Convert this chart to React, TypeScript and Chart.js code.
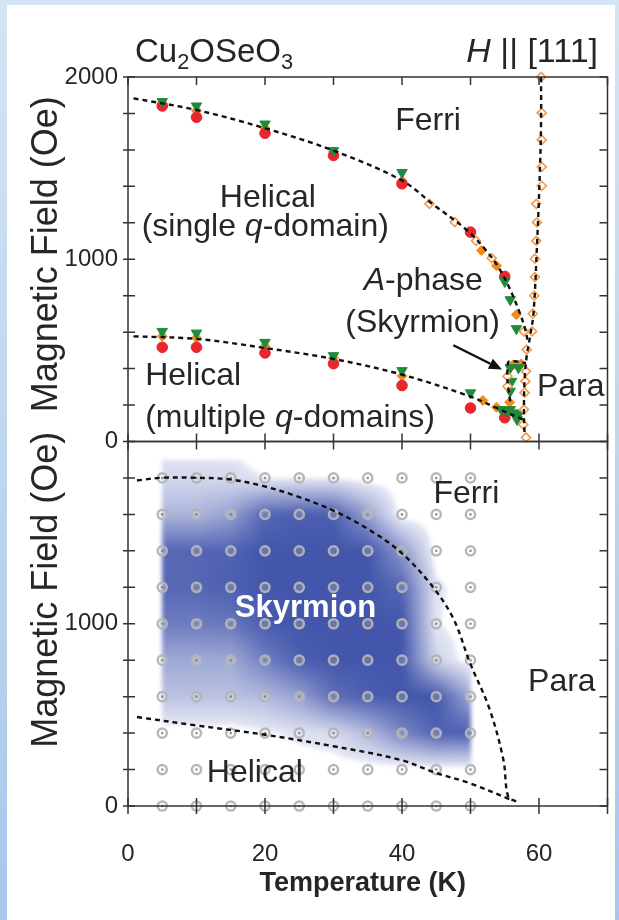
import React, { useEffect, useRef } from 'react';
import { Chart, registerables } from 'chart.js';

Chart.register(...registerables);

const FONT = '"Liberation Sans", Arial, Helvetica, sans-serif';

// ---- axes ----
const tempTickLabels = [0, 20, 40, 60];
const fieldTickLabels = [0, 1000, 2000];
const tempRange = [0, 70];
const fieldRange = [0, 2000];
const minorTempStep = 10;
const minorFieldStep = 200;

// ---- top panel: measured transition points ----
const redT = [5, 10, 20, 30, 40, 50, 55, 5, 10, 20, 30, 40, 50, 55];
const redH = [1841, 1779, 1691, 1569, 1414, 1149, 906, 517, 517, 486, 427, 307, 184, 130];

const greenT = [5, 10, 20, 30, 40, 55, 55.8, 56.7, 5, 10, 20, 30, 40, 50, 55.8, 57, 56, 55.8, 55.8, 54.5, 55.3, 56.3, 57, 56.8];
const greenH = [1865, 1841, 1742, 1596, 1476, 878, 778, 619, 604, 595, 544, 471, 389, 267, 405, 405, 330, 276, 175, 175, 166, 157, 148, 121];

const orangeT = [5, 10, 20, 30, 40, 51.6, 53.8, 56.7, 5, 10, 20, 30, 40, 51.8, 53.8, 55.7, 56.2, 57.4];
const orangeH = [1855, 1815, 1720, 1590, 1430, 1048, 964, 696, 577, 568, 522, 458, 360, 225, 188, 215, 420, 425];

const openT = [44, 47.7, 50.8, 53.1, 60.3, 60.4, 60.4, 60.4, 60.4, 59.6, 59.7, 59.6, 59.4, 59.4, 59.3, 59.1, 59.0, 57.8, 58.2, 55.4, 55.4, 58.1, 58.0, 57.9, 57.8, 57.7, 58.1];
const openH = [1304, 1204, 1101, 1006, 2000, 1803, 1655, 1507, 1403, 1304, 1202, 1101, 1003, 902, 800, 701, 604, 604, 504, 358, 303, 385, 330, 268, 175, 93, 22];

// ---- top panel: phase boundaries ----
const hc2TopT = [0.8, 10, 20, 30, 40, 44.6, 49.4, 52.4, 54.3, 55.8, 57.2, 58, 58.4];
const hc2TopH = [1883, 1819, 1719, 1596, 1432, 1299, 1162, 1043, 942, 833, 705, 614, 541];
const tcTopT = [60.3, 60.3, 60.1, 59.7, 59.2, 58.7, 58.2, 57.9, 57.8, 57.9];
const tcTopH = [2000, 1750, 1450, 1070, 705, 577, 467, 340, 157, 29];
const hc1TopT = [0.8, 10, 20, 30, 40, 49.9, 54.3, 57.7];
const hc1TopH = [577, 563, 513, 453, 367, 248, 175, 120];
const aPhaseT = [55.8, 55.4, 55.5, 56.5, 58.1];
const aPhaseH = [220, 330, 435, 440, 430];
const arrowFrom = { t: 47.5, h: 528 };
const arrowTo = { t: 54.6, h: 395 };

// ---- bottom panel: SANS measurement grid and skyrmion intensity ----
const gridT = [5, 10, 15, 20, 25, 30, 35, 40, 45, 50];
const gridH = [0, 200, 400, 600, 800, 1000, 1200, 1400, 1600, 1800];
const mapT = [5, 10, 15, 20, 25, 30, 35, 40, 45, 50];
const mapH = [200, 400, 600, 800, 1000, 1200, 1400, 1600, 1800, 1900];
const skyrmionIntensity = [
  [0, 0, 0, 0, 0, 0, 0, 0, 0, 0],
  [0, 0, 0, 0.05, 0.1, 0.15, 0.35, 0.65, 0.88, 0.9],
  [0.3, 0.3, 0.3, 0.35, 0.5, 0.8, 0.9, 0.95, 0.95, 0.45],
  [0.45, 0.45, 0.45, 0.7, 0.9, 0.95, 0.95, 0.95, 0.2, 0],
  [0.72, 0.72, 0.75, 0.92, 0.95, 0.95, 0.95, 0.95, 0.08, 0],
  [0.85, 0.85, 0.9, 0.95, 0.95, 0.95, 0.95, 0.85, 0.1, 0],
  [0.85, 0.85, 0.88, 0.95, 0.95, 0.95, 0.95, 0.55, 0, 0],
  [0.38, 0.38, 0.5, 0.85, 0.9, 0.9, 0.5, 0, 0, 0],
  [0.16, 0.16, 0.16, 0.07, 0.07, 0.07, 0, 0, 0, 0],
  [0.12, 0.12, 0.1, 0, 0, 0, 0, 0, 0, 0],
];
const hc2BotT = [1.3, 4.9, 10, 14.9, 19.8, 24.6, 30, 34.8, 39.7, 44.3, 47.5, 49.9, 52.8, 54.8, 55.5, 56.7];
const hc2BotH = [1786, 1801, 1801, 1792, 1755, 1700, 1621, 1525, 1396, 1212, 1028, 788, 530, 254, 51, 24];
const hc1BotT = [1.3, 10, 19.8, 30, 39.7, 45, 49.9, 56];
const hc1BotH = [488, 442, 392, 328, 254, 181, 125, 33];

// ---- region labels (anchored in data coordinates) ----
type Seg = { t: string; italic?: boolean; bold?: boolean; sub?: boolean };
type Label = { panel: 'top' | 'bot'; t: number; h: number; align: CanvasTextAlign; segs: Seg[]; color?: string };
const regionLabels: Label[] = [
  { panel: 'top', t: 39, h: 1710, align: 'left', segs: [{ t: 'Ferri' }] },
  { panel: 'top', t: 13.4, h: 1288, align: 'left', segs: [{ t: 'Helical' }] },
  { panel: 'top', t: 2.0, h: 1125, align: 'left', segs: [{ t: '(single ' }, { t: 'q', italic: true }, { t: '-domain)' }] },
  { panel: 'top', t: 51.8, h: 833, align: 'right', segs: [{ t: 'A', italic: true }, { t: '-phase' }] },
  { panel: 'top', t: 54.3, h: 603, align: 'right', segs: [{ t: '(Skyrmion)' }] },
  { panel: 'top', t: 59.7, h: 247, align: 'left', segs: [{ t: 'Para' }] },
  { panel: 'top', t: 2.5, h: 312, align: 'left', segs: [{ t: 'Helical' }] },
  { panel: 'top', t: 2.5, h: 82, align: 'left', segs: [{ t: '(multiple ' }, { t: 'q', italic: true }, { t: '-domains)' }] },
  { panel: 'bot', t: 44.6, h: 1663, align: 'left', segs: [{ t: 'Ferri' }] },
  { panel: 'bot', t: 15.6, h: 1039, align: 'left', segs: [{ t: 'Skyrmion', bold: true }], color: '#ffffff' },
  { panel: 'bot', t: 58.4, h: 630, align: 'left', segs: [{ t: 'Para' }] },
  { panel: 'bot', t: 11.5, h: 133, align: 'left', segs: [{ t: 'Helical' }] },
];

const pts = (xs: number[], ys: number[]) => xs.map((x, i) => ({ x, y: ys[i] }));

function segFont(s: Seg, size: number) {
  const sz = s.sub ? size * 0.66 : size;
  return `${s.italic ? 'italic ' : ''}${s.bold ? 'bold ' : ''}${sz}px ${FONT}`;
}

function drawRich(ctx: CanvasRenderingContext2D, segs: Seg[], x: number, y: number, size: number, align: CanvasTextAlign, color: string) {
  ctx.save();
  ctx.fillStyle = color;
  ctx.textBaseline = 'alphabetic';
  ctx.textAlign = 'left';
  let total = 0;
  const widths = segs.map((s) => {
    ctx.font = segFont(s, size);
    const w = ctx.measureText(s.t).width;
    total += w;
    return w;
  });
  let cx = align === 'center' ? x - total / 2 : align === 'right' ? x - total : x;
  segs.forEach((s, i) => {
    ctx.font = segFont(s, size);
    ctx.fillText(s.t, cx, s.sub ? y + size * 0.22 : y);
    cx += widths[i];
  });
  ctx.restore();
}

function sampleIntensity(t: number, h: number) {
  const nT = mapT.length, nH = mapH.length;
  if (t < mapT[0] || t > mapT[nT - 1] || h < mapH[0] || h > mapH[nH - 1]) return 0;
  let i = 0;
  while (i < nT - 2 && t > mapT[i + 1]) i++;
  let j = 0;
  while (j < nH - 2 && h > mapH[j + 1]) j++;
  const fx = (t - mapT[i]) / (mapT[i + 1] - mapT[i]);
  const fy = (h - mapH[j]) / (mapH[j + 1] - mapH[j]);
  const v00 = skyrmionIntensity[j][i];
  const v10 = skyrmionIntensity[j][i + 1];
  const v01 = skyrmionIntensity[j + 1][i];
  const v11 = skyrmionIntensity[j + 1][i + 1];
  return v00 * (1 - fx) * (1 - fy) + v10 * fx * (1 - fy) + v01 * (1 - fx) * fy + v11 * fx * fy;
}

const backgroundPlugin = {
  id: 'pageBackground',
  beforeDraw(chart: any) {
    const { ctx, width, height } = chart;
    ctx.save();
    const g = ctx.createLinearGradient(0, 0, 0, height);
    g.addColorStop(0, '#d4e4f4');
    g.addColorStop(1, '#a8c8ea');
    ctx.fillStyle = g;
    ctx.fillRect(0, 0, width, height);
    ctx.fillStyle = '#ffffff';
    ctx.fillRect(7, 5, width - 7 - 4, height - 5);
    ctx.restore();
  },
};

const heatmapPlugin = {
  id: 'skyrmionMap',
  beforeDatasetsDraw(chart: any) {
    const { ctx } = chart;
    const xs = chart.scales.x;
    const ys = chart.scales.yBot;
    const x0 = Math.floor(xs.getPixelForValue(mapT[0]));
    const x1 = Math.ceil(xs.getPixelForValue(mapT[mapT.length - 1]));
    const y0 = Math.floor(ys.getPixelForValue(mapH[mapH.length - 1]));
    const y1 = Math.ceil(ys.getPixelForValue(mapH[0]));
    const w = x1 - x0, h = y1 - y0;
    const off = document.createElement('canvas');
    off.width = w;
    off.height = h;
    const octx = off.getContext('2d')!;
    const img = octx.createImageData(w, h);
    const lo = [242, 243, 250];
    const hi = [58, 78, 168];
    for (let py = 0; py < h; py++) {
      const H = ys.getValueForPixel(y0 + py + 0.5);
      for (let px = 0; px < w; px++) {
        const T = xs.getValueForPixel(x0 + px + 0.5);
        let v = sampleIntensity(T, H);
        if (v < 0.07) continue;
        v = Math.min(1, v);
        const k = (py * w + px) * 4;
        img.data[k] = lo[0] + (hi[0] - lo[0]) * v;
        img.data[k + 1] = lo[1] + (hi[1] - lo[1]) * v;
        img.data[k + 2] = lo[2] + (hi[2] - lo[2]) * v;
        img.data[k + 3] = 255;
      }
    }
    octx.putImageData(img, 0, 0);
    ctx.save();
    ctx.filter = 'blur(2px)';
    ctx.drawImage(off, x0, y0);
    ctx.restore();
  },
};

const annotationPlugin = {
  id: 'frameAndText',
  afterDatasetsDraw(chart: any) {
    const { ctx } = chart;
    const xs = chart.scales.x;
    const yt = chart.scales.yTop;
    const yb = chart.scales.yBot;
    const L = chart.chartArea.left;
    const R = chart.chartArea.right;
    const ink = '#262626';

    // frames and inward ticks
    ctx.save();
    ctx.strokeStyle = '#333333';
    ctx.lineWidth = 1.5;
    ctx.strokeRect(L, yt.top, R - L, yt.bottom - yt.top);
    ctx.strokeRect(L, yb.top, R - L, yb.bottom - yb.top);
    ctx.beginPath();
    for (let t = tempRange[0]; t <= tempRange[1]; t += minorTempStep) {
      const px = xs.getPixelForValue(t);
      ctx.moveTo(px, yt.top);
      ctx.lineTo(px, yt.top + 8);
      ctx.moveTo(px, yt.bottom - 8);
      ctx.lineTo(px, yt.bottom + 8);
      ctx.moveTo(px, yb.bottom - 8);
      ctx.lineTo(px, yb.bottom + 8);
    }
    [yt, yb].forEach((s) => {
      for (let h = fieldRange[0]; h <= fieldRange[1]; h += minorFieldStep) {
        const py = s.getPixelForValue(h);
        ctx.moveTo(L - 5, py);
        ctx.lineTo(L + 7, py);
        ctx.moveTo(R - 8, py);
        ctx.lineTo(R, py);
      }
    });
    ctx.stroke();
    ctx.restore();

    // arrow pointing to the A-phase pocket
    ctx.save();
    const ax0 = xs.getPixelForValue(arrowFrom.t), ay0 = yt.getPixelForValue(arrowFrom.h);
    const ax1 = xs.getPixelForValue(arrowTo.t), ay1 = yt.getPixelForValue(arrowTo.h);
    const ang = Math.atan2(ay1 - ay0, ax1 - ax0);
    const headL = 13, headW = 5.5;
    const bx = ax1 - Math.cos(ang) * headL, by = ay1 - Math.sin(ang) * headL;
    ctx.strokeStyle = '#111';
    ctx.fillStyle = '#111';
    ctx.lineWidth = 2.4;
    ctx.beginPath();
    ctx.moveTo(ax0, ay0);
    ctx.lineTo(bx, by);
    ctx.stroke();
    ctx.beginPath();
    ctx.moveTo(ax1, ay1);
    ctx.lineTo(bx + Math.sin(ang) * headW, by - Math.cos(ang) * headW);
    ctx.lineTo(bx - Math.sin(ang) * headW, by + Math.cos(ang) * headW);
    ctx.closePath();
    ctx.fill();
    ctx.restore();

    // region labels
    regionLabels.forEach((lb) => {
      const s = lb.panel === 'top' ? yt : yb;
      const px = xs.getPixelForValue(lb.t);
      const py = s.getPixelForValue(lb.h);
      drawRich(ctx, lb.segs, px, py, lb.segs[0].bold ? 31 : 32, lb.align, lb.color || ink);
    });

    // titles
    drawRich(ctx, [{ t: 'Cu' }, { t: '2', sub: true }, { t: 'OSeO' }, { t: '3', sub: true }], 135, 62, 33, 'left', ink);
    drawRich(ctx, [{ t: 'H', italic: true }, { t: ' || [111]' }], 598, 62, 34, 'right', ink);

    // axis titles
    ctx.save();
    ctx.fillStyle = ink;
    ctx.font = `36px ${FONT}`;
    ctx.textAlign = 'center';
    ctx.textBaseline = 'middle';
    [[yt, -5], [yb, -34]].forEach(([s, dy]: any) => {
      ctx.save();
      ctx.translate(47, (s.top + s.bottom) / 2 + dy);
      ctx.rotate(-Math.PI / 2);
      ctx.fillText('Magnetic Field (Oe)', 0, 0);
      ctx.restore();
    });
    ctx.font = `bold 27px ${FONT}`;
    ctx.textBaseline = 'alphabetic';
    ctx.fillText('Temperature (K)', (L + R) / 2 - 5, 891);
    ctx.restore();
  },
};

export default function App() {
  const ref = useRef<HTMLCanvasElement | null>(null);

  useEffect(() => {
    const canvas = ref.current;
    if (!canvas) return;
    const dashed = {
      showLine: true,
      borderColor: '#111111',
      borderWidth: 2.4,
      borderDash: [5, 4],
      pointRadius: 0,
      tension: 0.35,
      fill: false,
      clip: false as any,
      order: 0,
    };
    const tickFont = { family: FONT, size: 24 };
    const gridPoints: { x: number; y: number }[] = [];
    gridH.forEach((h) => gridT.forEach((t) => gridPoints.push({ x: t, y: h })));
    const noPad = (s: any) => { s.paddingLeft = 0; s.paddingRight = 0; };

    const chart = new Chart(canvas, {
      type: 'scatter',
      data: {
        datasets: [
          { ...dashed, label: 'Hc2 (top)', data: pts(hc2TopT, hc2TopH), yAxisID: 'yTop' },
          { ...dashed, label: 'Tc (top)', data: pts(tcTopT, tcTopH), yAxisID: 'yTop' },
          { ...dashed, label: 'Hc1 (top)', data: pts(hc1TopT, hc1TopH), yAxisID: 'yTop' },
          { ...dashed, label: 'A-phase', data: pts(aPhaseT, aPhaseH), yAxisID: 'yTop', tension: 0.2 },
          { ...dashed, label: 'Hc2 (bottom)', data: pts(hc2BotT, hc2BotH), yAxisID: 'yBot' },
          { ...dashed, label: 'Hc1 (bottom)', data: pts(hc1BotT, hc1BotH), yAxisID: 'yBot' },
          {
            label: 'open diamonds', data: pts(openT, openH), yAxisID: 'yTop', order: 1, clip: false as any,
            pointStyle: 'rectRot', pointRadius: 4.5, pointBackgroundColor: '#ffffff', pointBorderColor: '#f29a4c', pointBorderWidth: 1.6,
          },
          {
            label: 'green', data: pts(greenT, greenH), yAxisID: 'yTop', order: 2, clip: false as any,
            pointStyle: 'triangle', pointRotation: 180, pointRadius: 6, pointBackgroundColor: '#1f8b3b', pointBorderColor: '#1f8b3b', pointBorderWidth: 1,
          },
          {
            label: 'red', data: pts(redT, redH), yAxisID: 'yTop', order: 3, clip: false as any,
            pointStyle: 'circle', pointRadius: 5.3, pointBackgroundColor: '#e8262c', pointBorderColor: '#e8262c', pointBorderWidth: 1,
          },
          {
            label: 'orange', data: pts(orangeT, orangeH), yAxisID: 'yTop', order: 4, clip: false as any,
            pointStyle: 'rectRot', pointRadius: 5, pointBackgroundColor: '#f28a1c', pointBorderColor: '#f28a1c', pointBorderWidth: 1,
          },
          {
            label: 'SANS grid centre', data: gridPoints, yAxisID: 'yBot', order: 5, clip: false as any,
            pointStyle: 'circle', pointRadius: 1.3, pointBackgroundColor: 'rgba(120,120,120,0.8)', pointBorderWidth: 0,
          },
          {
            label: 'SANS grid', data: gridPoints, yAxisID: 'yBot', order: 6, clip: false as any,
            pointStyle: 'circle', pointRadius: 4.6, pointBackgroundColor: 'rgba(255,255,255,0.18)', pointBorderColor: 'rgba(180,180,180,0.95)', pointBorderWidth: 2.5,
          },
        ],
      },
      options: {
        responsive: false,
        animation: false,
        devicePixelRatio: 1,
        layout: { padding: { left: 58, top: 77, right: 11.5, bottom: 54 } },
        plugins: { legend: { display: false }, tooltip: { enabled: false } },
        events: [],
        scales: {
          x: {
            type: 'linear', position: 'bottom', min: tempRange[0], max: tempRange[1],
            grid: { display: false, drawTicks: false }, border: { display: false },
            ticks: {
              stepSize: 20, autoSkip: false, maxRotation: 0, padding: 34, color: '#262626', font: tickFont,
              callback: (v: any) => (tempTickLabels.includes(v) ? String(v) : ''),
            },
            afterFit: (s: any) => { s.height = 60; noPad(s); },
          },
          yBot: {
            type: 'linear', position: 'left', stack: 'field', stackWeight: 1, min: fieldRange[0], max: fieldRange[1],
            grid: { display: false, drawTicks: false }, border: { display: false },
            ticks: {
              stepSize: 1000, autoSkip: false, padding: 10, color: '#262626', font: tickFont,
              callback: (v: any) => (fieldTickLabels.includes(v) && v !== fieldRange[1] ? String(v) : ''),
            },
            afterFit: (s: any) => { s.width = 70; },
          },
          yTop: {
            type: 'linear', position: 'left', stack: 'field', stackWeight: 1, min: fieldRange[0], max: fieldRange[1],
            grid: { display: false, drawTicks: false }, border: { display: false },
            ticks: {
              stepSize: 1000, autoSkip: false, padding: 10, color: '#262626', font: tickFont,
              callback: (v: any) => (fieldTickLabels.includes(v) ? String(v) : ''),
            },
            afterFit: (s: any) => { s.width = 70; },
          },
        } as any,
      },
      plugins: [backgroundPlugin, heatmapPlugin, annotationPlugin],
    } as any);
    return () => chart.destroy();
  }, []);

  return (
    <div style={{ position: 'absolute', left: 0, top: 0, width: 619, height: 920 }}>
      <canvas ref={ref} width={619} height={920} style={{ width: 619, height: 920, display: 'block' }} />
    </div>
  );
}
